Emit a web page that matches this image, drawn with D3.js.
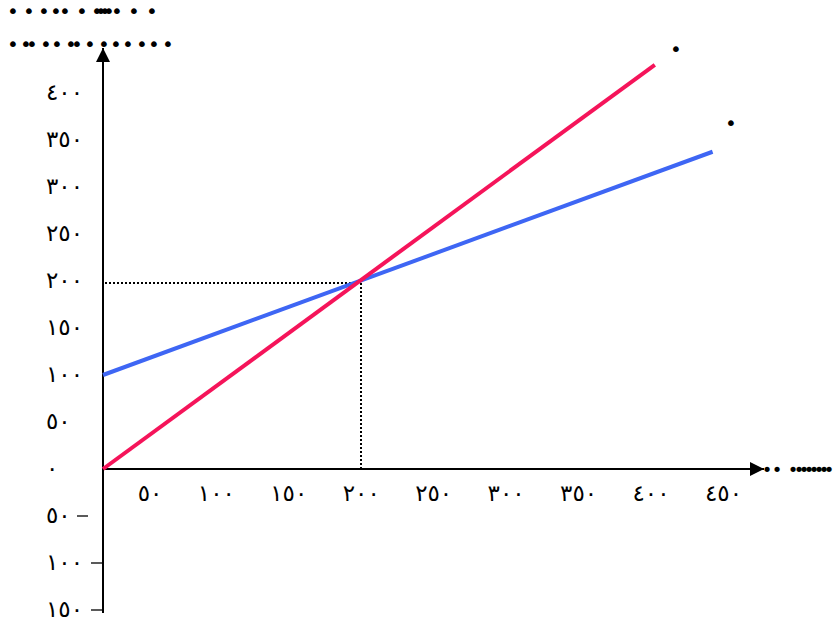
<!DOCTYPE html>
<html>
  <head>
    <meta charset="utf-8" />
    <title>Two lines</title>
    <script src="https://d3js.org/d3.v7.min.js"></script>
    <style>
      body { margin: 0; background: #fff; }
      text { font-family: "DejaVu Sans", sans-serif; }
    </style>
  </head>
  <body>
    <svg id="chart" width="839" height="623"></svg>

    <script>
      // data
      var yTicks = [400, 350, 300, 250, 200, 150, 100, 50, 0, -50, -100, -150];
      var xTicks = [50, 100, 150, 200, 250, 300, 350, 400, 450];
      var pinkX = [0, 430];
      var pinkY = [0, 430];
      var blueX = [0, 475];
      var blueY = [100, 337.5];
      var meet = { x: 200, y: 200 };

      var arabicDigits = "٠١٢٣٤٥٦٧٨٩";
      function toArabic(n) {
        return String(Math.abs(n)).replace(/[0-9]/g, function (c) {
          return arabicDigits[+c];
        });
      }

      var svg = d3.select("#chart");

      var x = d3.scaleLinear().domain([0, 450]).range([103, 680.5]);
      var y = d3.scaleLinear().domain([-150, 400]).range([610, 93]);
      // the tick labels under the x axis are spread wider than the plot
      var xLabel = d3.scaleLinear().domain([0, 450]).range([90, 742]);

      svg
        .append("defs")
        .append("marker")
        .attr("id", "arrow")
        .attr("viewBox", "0 -5 10 10")
        .attr("refX", 10)
        .attr("refY", 0)
        .attr("markerWidth", 7)
        .attr("markerHeight", 7)
        .attr("markerUnits", "strokeWidth")
        .attr("orient", "auto")
        .append("path")
        .attr("d", "M0,-5 L10,0 L0,5 Z")
        .style("fill", "#000");

      var x0 = Math.round(x(0));
      var y0 = Math.round(y(0));

      // axes
      svg
        .append("line")
        .attr("x1", x0)
        .attr("y1", y0)
        .attr("x2", 764)
        .attr("y2", y0)
        .attr("stroke", "#000")
        .attr("stroke-width", 2)
        .attr("marker-end", "url(#arrow)");

      svg
        .append("line")
        .attr("x1", x0)
        .attr("y1", 613)
        .attr("x2", x0)
        .attr("y2", 48)
        .attr("stroke", "#000")
        .attr("stroke-width", 2)
        .attr("marker-end", "url(#arrow)");

      // dotted guide lines to the meeting point
      var mx = Math.round(x(meet.x)) + 1;
      var my = Math.round(y(meet.y)) + 2;
      svg
        .append("path")
        .attr("d", "M" + (x0 + 2) + "," + my + " H" + mx)
        .attr("stroke", "#000")
        .attr("stroke-width", 2)
        .attr("stroke-dasharray", "2,2")
        .attr("shape-rendering", "crispEdges");
      svg
        .append("path")
        .attr("d", "M" + mx + "," + my + " V" + (y0 - 1))
        .attr("stroke", "#000")
        .attr("stroke-width", 2)
        .attr("stroke-dasharray", "2,2")
        .attr("shape-rendering", "crispEdges");

      var line = d3
        .line()
        .x(function (d) { return x(d[0]); })
        .y(function (d) { return y(d[1]); });

      svg
        .append("path")
        .datum(d3.zip(blueX, blueY))
        .attr("d", line)
        .attr("fill", "none")
        .attr("stroke", "#3e66f4")
        .attr("stroke-width", 4);

      svg
        .append("path")
        .datum(d3.zip(pinkX, pinkY))
        .attr("d", line)
        .attr("fill", "none")
        .attr("stroke", "#f5145a")
        .attr("stroke-width", 4);

      // y tick labels
      var ylab = svg
        .selectAll(".ylab")
        .data(yTicks)
        .enter()
        .append("g")
        .attr("class", "ylab")
        .attr("transform", function (d) { return "translate(0," + y(d) + ")"; });

      ylab
        .append("text")
        .attr("x", 46)
        .attr("dy", "0.3em")
        .attr("font-size", 23)
        .attr("letter-spacing", 2)
        .text(toArabic);

      // minus signs sit to the right of the negative labels
      ylab
        .filter(function (d) { return d < 0; })
        .append("line")
        .attr("x1", function (d) { return d === -50 ? 77 : 91; })
        .attr("x2", function (d) { return d === -50 ? 88 : 102; })
        .attr("stroke", "#000")
        .attr("stroke-width", 1.3);

      // x tick labels
      svg
        .selectAll(".xlab")
        .data(xTicks)
        .enter()
        .append("text")
        .attr("class", "xlab")
        .attr("x", function (d) { return xLabel(d); })
        .attr("y", 494)
        .attr("dy", "0.3em")
        .attr("text-anchor", "end")
        .attr("font-size", 23)
        .attr("letter-spacing", 2)
        .text(toArabic);

      // captions, shown as dots in the original
      function dots(xs, yy, size) {
        svg
          .append("text")
          .attr("x", xs.join(" "))
          .attr("y", yy)
          .attr("font-size", size || 20)
          .attr("text-anchor", "middle")
          .text(xs.map(function () { return "•"; }).join(""));
      }
      dots([13, 29, 44, 56, 65, 82, 97, 101, 105, 109, 117, 134, 152], 18);
      dots([13, 26, 32, 46, 57, 71, 77, 90, 104, 116, 128, 142, 154, 168], 51);
      dots([767, 777, 793, 799, 804, 809, 814, 819, 824, 829], 476, 18);
      dots([676], 56);
      dots([731], 130);
    </script>
  </body>
</html>
